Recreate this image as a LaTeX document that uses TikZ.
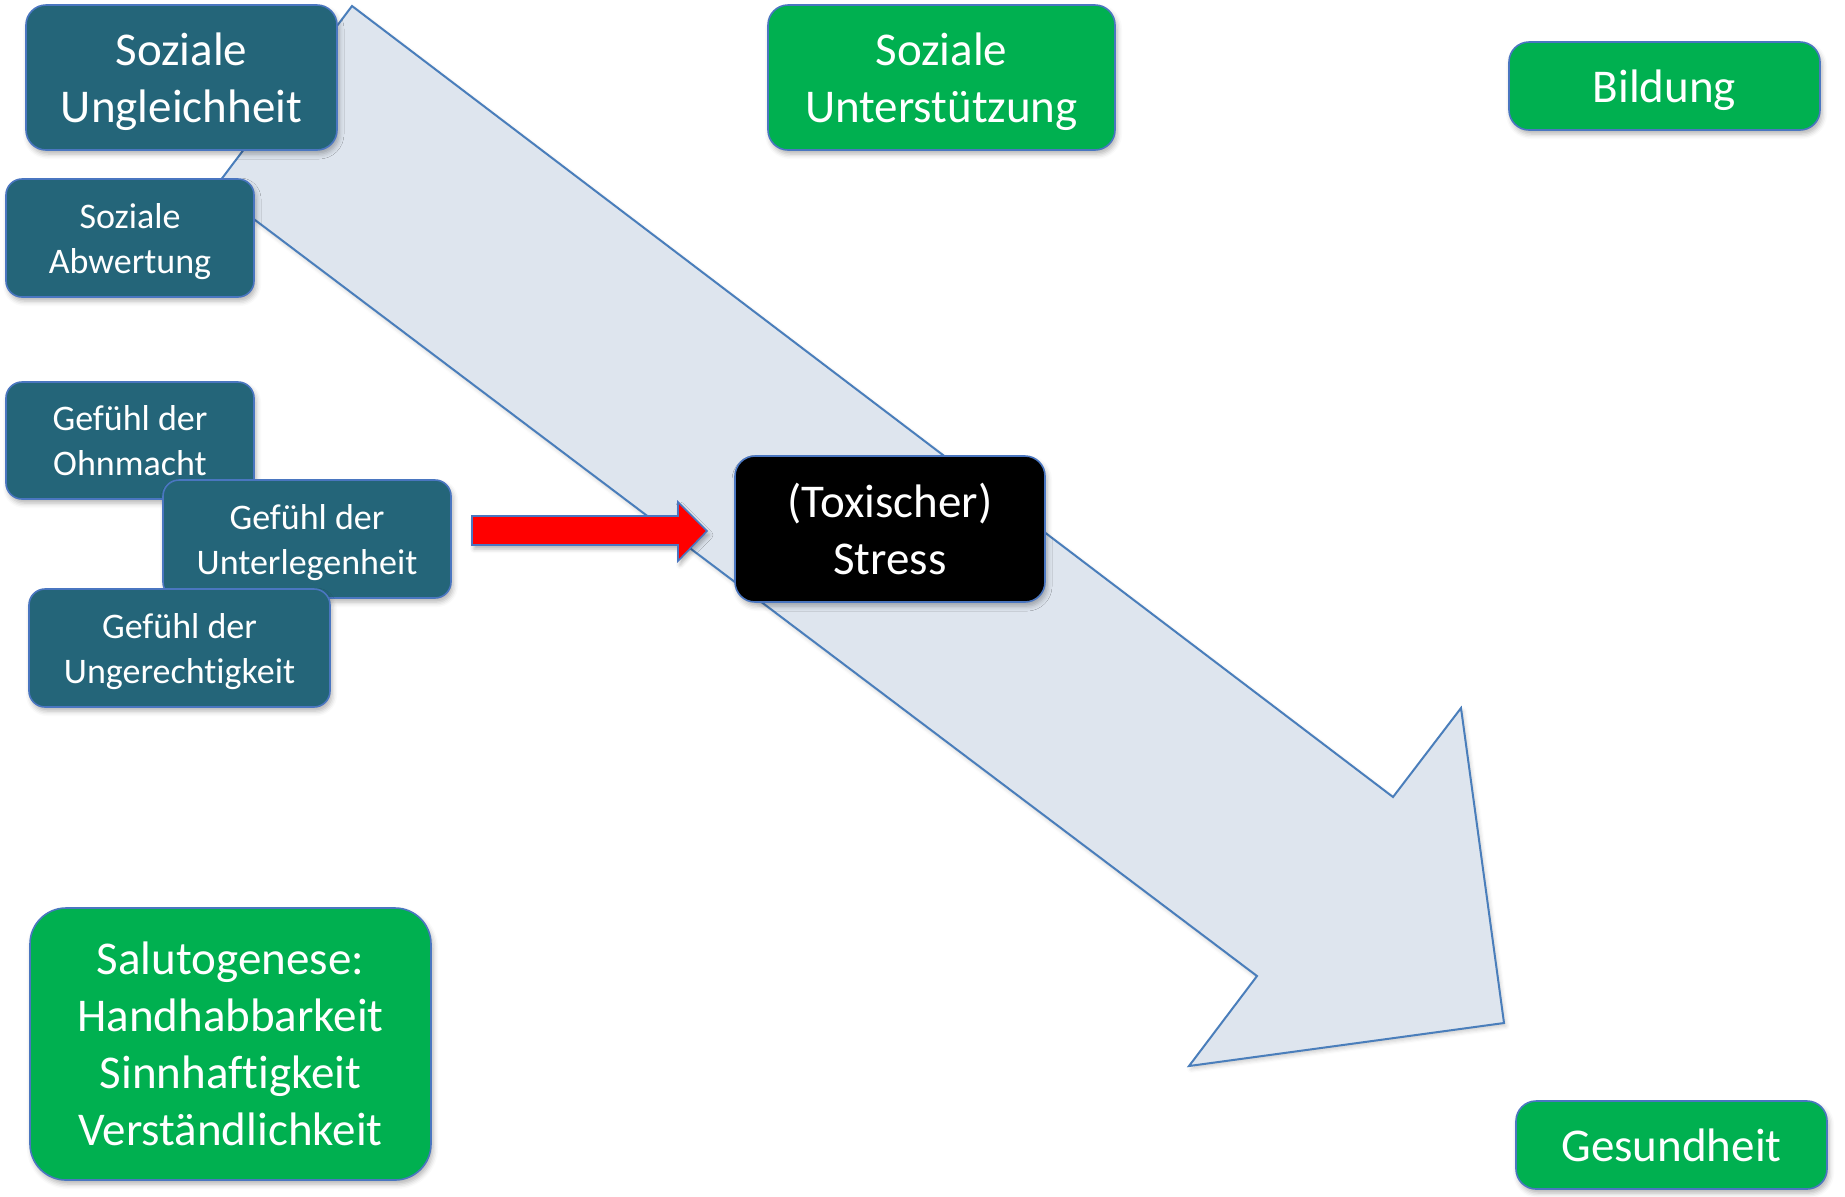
\documentclass[tikz,border=0pt]{standalone}
\usepackage{fontspec}
\setmainfont{Carlito}[Ligatures={NoCommon}]
\usetikzlibrary{shadows.blur}
\definecolor{tealbg}{HTML}{246579}
\definecolor{grn}{HTML}{00B050}
\definecolor{edge}{HTML}{4A76C0}
\definecolor{arrowfill}{HTML}{DEE5EE}
\definecolor{arrowedge}{HTML}{4A7EBB}
\begin{document}
\begin{tikzpicture}[x=0.5pt,y=-0.5pt,
  base/.style={draw=edge, line width=0.8pt, text=white, align=center, inner sep=0pt, text depth=0pt,
    blur shadow={shadow xshift=1pt, shadow yshift=-2pt, shadow blur radius=2.5pt, shadow opacity=30}},
  bigbox/.style={base, font=\fontsize{23.5}{28.5}\selectfont, rounded corners=10pt},
  smallbox/.style={base, font=\fontsize{18}{22.5}\selectfont, rounded corners=8pt},
  tealbox/.style={fill=tealbg},
  greenbox/.style={fill=grn},
  blackbox/.style={fill=black}]
\useasboundingbox (0,0) rectangle (1845,1196);
% big diagonal arrow
\draw[fill=arrowfill, draw=arrowedge, line width=1pt, line join=miter,
  blur shadow={shadow xshift=1pt, shadow yshift=-1.5pt, shadow blur radius=2pt, shadow opacity=20}]
  (352,6) -- (1393,797) -- (1461,708) -- (1504,1023) -- (1189,1066) -- (1257,976) -- (214,189) -- cycle;
% teal boxes
\node[bigbox, tealbox, minimum width=155.5pt, minimum height=72.5pt] (ungl) at (181.5,77.5) {Soziale\\Ungleichheit};
\node[smallbox, tealbox, minimum width=124pt, minimum height=59pt] (abw) at (130,238) {Soziale\\Abwertung};
\node[smallbox, tealbox, minimum width=124pt, minimum height=58.5pt] (ohn) at (130,440.5) {Gefühl der\\Ohnmacht};
\node[smallbox, tealbox, minimum width=144pt, minimum height=59pt] (unter) at (307,539) {Gefühl der\\Unterlegenheit};
\node[smallbox, tealbox, minimum width=150.5pt, minimum height=59pt] (unger) at (179.5,648) {Gefühl der\\Ungerechtigkeit};
% green boxes
\node[bigbox, greenbox, minimum width=173.5pt, minimum height=72.5pt] (unterst) at (941.5,77.5) {Soziale\\Unterstützung};
\node[bigbox, greenbox, minimum width=155.5pt, minimum height=44pt] (bild) at (1664.5,86) {Bildung};
\node[bigbox, greenbox, minimum width=155.5pt, minimum height=44pt] (ges) at (1671.5,1145) {Gesundheit};
\node[bigbox, greenbox, rounded corners=18pt, minimum width=200.5pt, minimum height=136pt] (salu) at (230.5,1044) {Salutogenese:\\Handhabbarkeit\\Sinnhaftigkeit\\Verständlichkeit};
% stress box
\node[bigbox, blackbox, minimum width=155pt, minimum height=73pt] (stress) at (890,529) {(Toxischer)\\Stress};
% red block arrow
\coordinate (rtip) at (707,531);
\draw[fill=red, draw=edge, line width=0.8pt, line join=miter,
  blur shadow={shadow xshift=1pt, shadow yshift=-2pt, shadow blur radius=2pt, shadow opacity=30}]
  (472,516) -- (678,516) -- (678,502) -- (rtip) -- (678,561) -- (678,545) -- (472,545) -- cycle;
\end{tikzpicture}
\end{document}
